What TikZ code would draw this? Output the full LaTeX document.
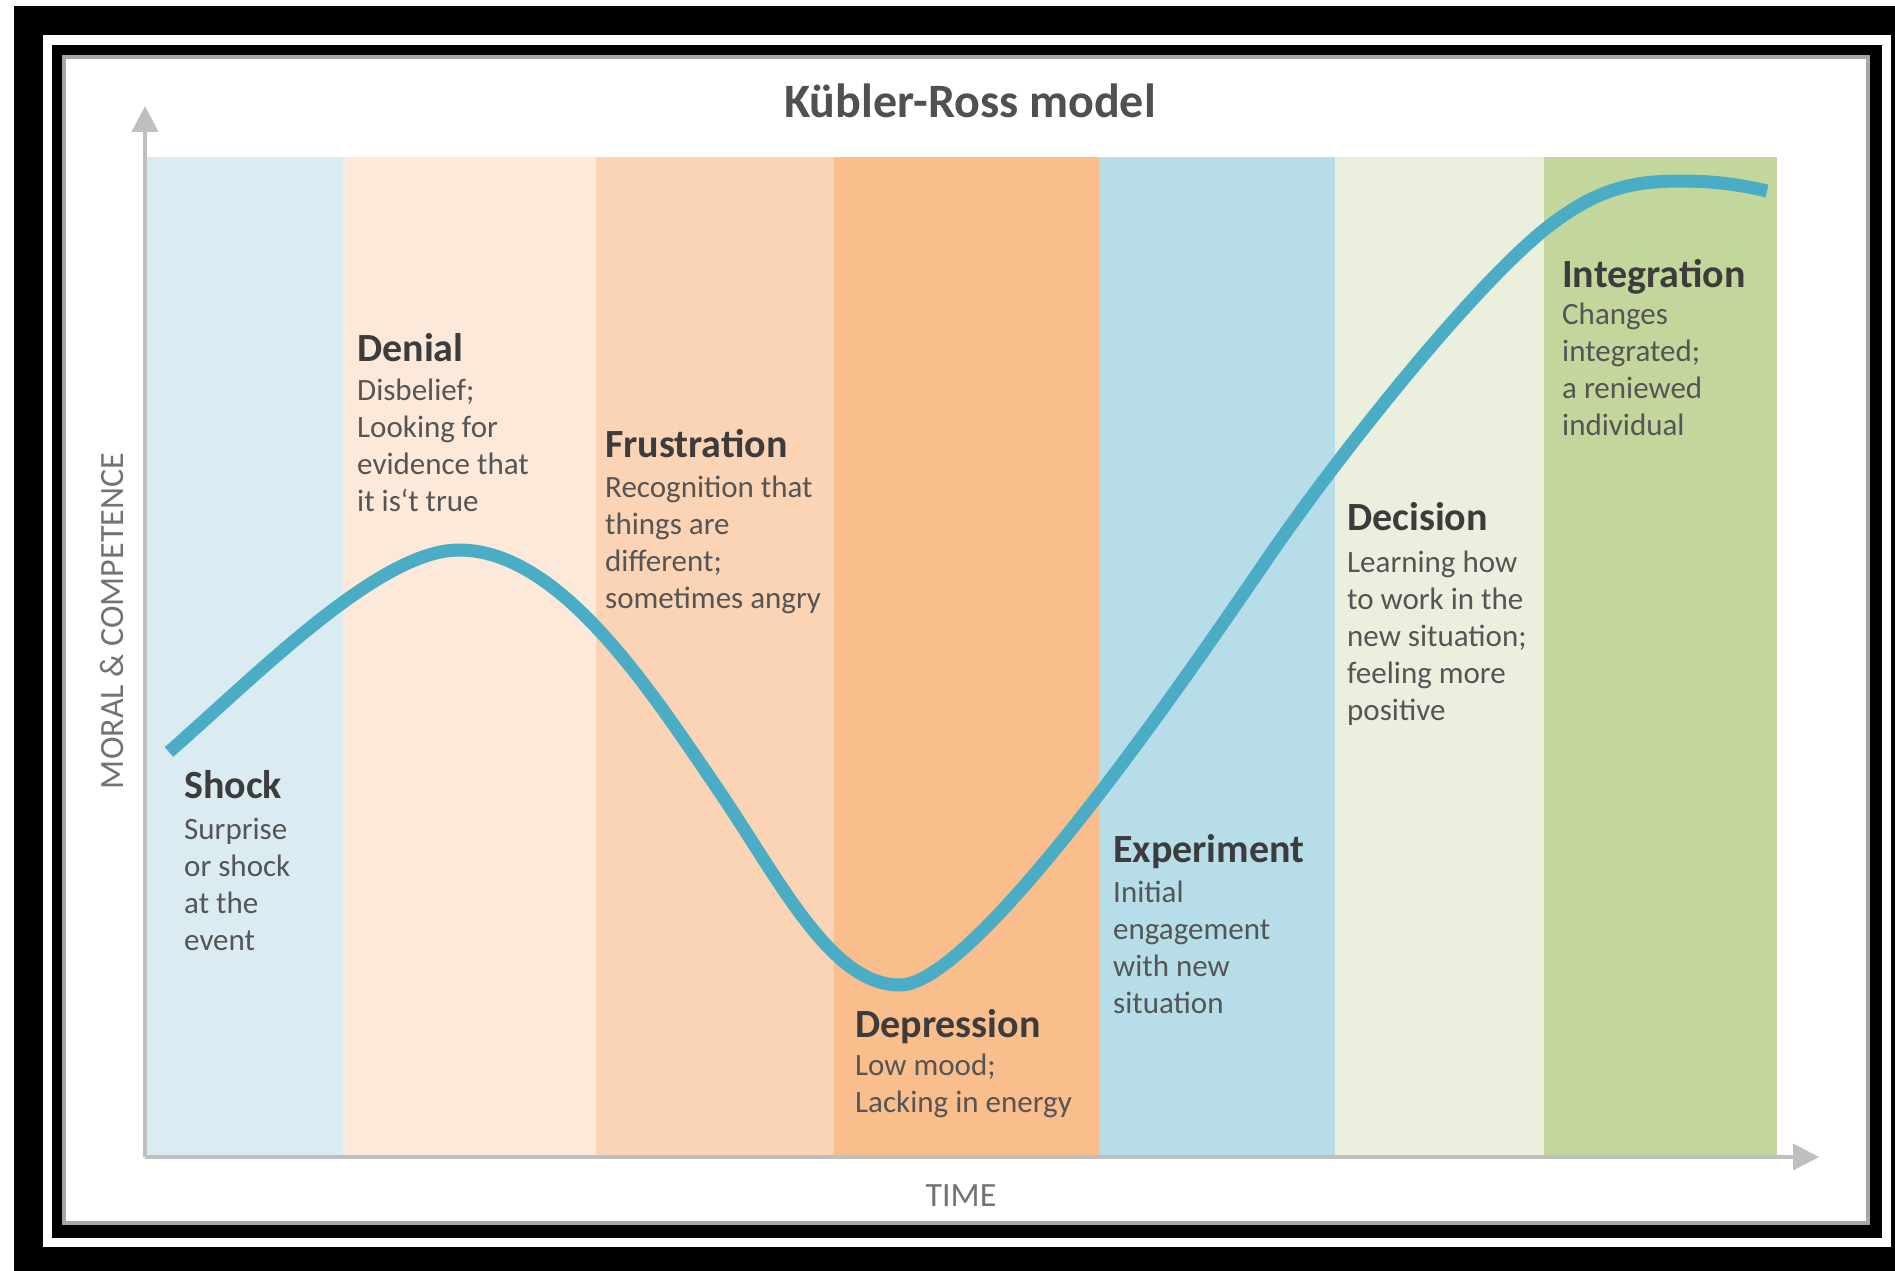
\documentclass[tikz,border=0pt]{standalone}
\usepackage{fontspec}
\setmainfont{Carlito}
\usetikzlibrary{arrows.meta}
\definecolor{cShock}{RGB}{218,236,242}
\definecolor{cDenial}{RGB}{252,233,218}
\definecolor{cFrust}{RGB}{250,212,180}
\definecolor{cDepr}{RGB}{249,190,140}
\definecolor{cExper}{RGB}{183,221,232}
\definecolor{cDecis}{RGB}{235,240,222}
\definecolor{cInteg}{RGB}{195,214,155}
\definecolor{curveblue}{RGB}{75,172,198}
\definecolor{axisgray}{RGB}{191,191,191}
\definecolor{headtxt}{RGB}{60,60,60}
\definecolor{bodytxt}{RGB}{85,85,85}
\definecolor{titletxt}{RGB}{80,80,80}
\tikzset{
  head/.style={anchor=base west, inner sep=0pt, text=headtxt, font=\fontsize{40}{44}\selectfont\bfseries},
  body/.style={anchor=base west, inner sep=0pt, text=bodytxt, align=left, font=\fontsize{31}{37}\selectfont},
  axis/.style={draw=axisgray, line width=4pt, -{Triangle[length=26pt,width=26pt]}},
  axlabel/.style={inner sep=0pt, text=black!55, font=\fontsize{34}{38}\selectfont}
}
\begin{document}
\begin{tikzpicture}[x=1pt,y=-1pt]
\useasboundingbox (0,0) rectangle (1895,1271);
% frame
\fill[white] (0,0) rectangle (1895,1271);
\fill[black] (14,6) rectangle (1895,1271);
\fill[white] (43,35) rectangle (1891,1247);
\fill[black] (52,45) rectangle (1882,1238);
\fill[white] (62,55) rectangle (1870,1225);
\draw[black!35, line width=4pt] (64,57) rectangle (1868,1223);
% bands
\fill[cShock]  (147,157) rectangle (343,1157);
\fill[cDenial] (343,157) rectangle (596,1157);
\fill[cFrust]  (596,157) rectangle (834,1157);
\fill[cDepr]   (834,157) rectangle (1099,1157);
\fill[cExper]  (1099,157) rectangle (1335,1157);
\fill[cDecis]  (1335,157) rectangle (1544,1157);
\fill[cInteg]  (1544,157) rectangle (1777,1157);
% axes
\coordinate (O) at (145,1157);
\coordinate (Ytop) at (145,106);
\coordinate (Xend) at (1819,1157);
\draw[axis] (O) -- (Ytop);
\draw[axis] (O) -- (Xend);
\node[axlabel, rotate=90] (ylab) at (112,621) {MORAL \& COMPETENCE};
\node[axlabel] (xlab) at (961,1196) {TIME};
% title
\node[anchor=base, inner sep=0pt, text=titletxt, font=\fontsize{48}{54}\selectfont\bfseries] (title) at (970,118) {Kübler-Ross model};
% curve
\draw[curveblue, line width=13pt]
 (169,752) .. controls (260,672) and (380,550) .. (459,550)
 .. controls (560,550) and (650,690) .. (715,785)
 .. controls (780,880) and (830,985) .. (900,985)
 .. controls (980,985) and (1210,642) .. (1270,555)
 .. controls (1340,453) and (1470,290) .. (1544,230)
 .. controls (1594,190) and (1630,181) .. (1680,181)
 .. controls (1720,181) and (1745,186) .. (1767,191);
% texts
\node[head] (hShock) at (184,798) {Shock};
\node[body] (bShock) at (184,950) {Surprise\\or shock\\at the\\event};
\node[head] (hDenial) at (357,361) {Denial};
\node[body] (bDenial) at (357,511) {Disbelief;\\Looking for\\evidence that\\it is‘t true};
\node[head] (hFrust) at (605,457) {Frustration};
\node[body] (bFrust) at (605,608) {Recognition that\\things are\\different;\\sometimes angry};
\node[head] (hDepr) at (855,1037) {Depression};
\node[body] (bDepr) at (855,1112) {Low mood;\\Lacking in energy};
\node[head] (hExper) at (1113,862) {Experiment};
\node[body] (bExper) at (1113,1013) {Initial\\engagement\\with new\\situation};
\node[head] (hDecis) at (1347,530) {Decision};
\node[body] (bDecis) at (1347,720) {Learning how\\to work in the\\new situation;\\feeling more\\positive};
\node[head] (hInteg) at (1562,287) {Integration};
\node[body] (bInteg) at (1562,435) {Changes\\integrated;\\a reniewed\\individual};
\end{tikzpicture}
\end{document}
